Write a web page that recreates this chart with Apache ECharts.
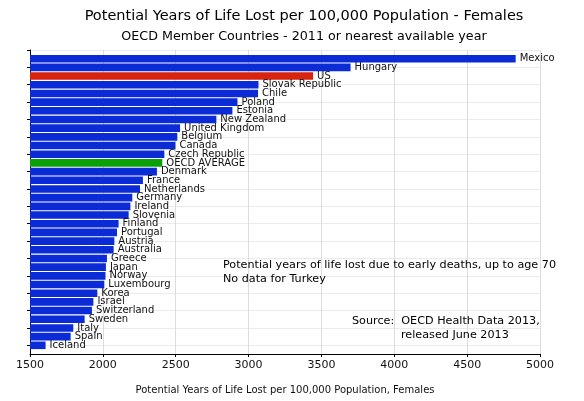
<!DOCTYPE html>
<html>
<head>
<meta charset="utf-8">
<script src="https://cdn.jsdelivr.net/npm/echarts@6/dist/echarts.min.js"></script>
<style>
html,body{margin:0;padding:0;background:#fff;}
#chart{width:584px;height:401px;}
</style>
</head>
<body>
<div id="chart"></div>
<script>
var countries = ['Mexico','Hungary','US','Slovak Republic','Chile','Poland','Estonia','New Zealand','United Kingdom','Belgium','Canada','Czech Republic','OECD AVERAGE','Denmark','France','Netherlands','Germany','Ireland','Slovenia','Finland','Portugal','Austria','Australia','Greece','Japan','Norway','Luxembourg','Korea','Israel','Switzerland','Sweden','Italy','Spain','Iceland'];
var values = [4833,3700,3443,3068,3065,2924,2889,2779,2530,2511,2498,2422,2408,2371,2275,2255,2202,2189,2177,2108,2097,2079,2074,2028,2021,2018,2010,1962,1935,1925,1875,1797,1779,1607];
var xTicks = {min:1500, max:5000, interval:500};
var highlight = {'US':'#d8230f','OECD AVERAGE':'#0aa00a'};
var baseColor = '#0a2bd6';
var titleText = 'Potential Years of Life Lost per 100,000 Population - Females';
var subtitleText = 'OECD Member Countries - 2011 or nearest available year';
var xAxisName = 'Potential Years of Life Lost per 100,000 Population, Females';
var noteLines = ['Potential years of life lost due to early deaths, up to age 70','No data for Turkey'];
var sourceLines = ['Source:  OECD Health Data 2013,','released June 2013'];

var font = 'DejaVu Sans';
var cats = [''].concat(countries).concat(['']);
var seriesData = [null].concat(values.map(function(v,i){
  return {value:v, itemStyle:{color: highlight[countries[i]] || baseColor}};
})).concat([null]);

var chart = echarts.init(document.getElementById('chart'));
chart.setOption({
  animation:false,
  textStyle:{fontFamily:font},
  grid:{left:30, right:44, top:50, bottom:47},
  xAxis:{
    type:'value', min:xTicks.min, max:xTicks.max, interval:xTicks.interval,
    name:xAxisName, nameLocation:'middle', nameGap:31,
    nameTextStyle:{fontFamily:font, fontSize:10, color:'#111'},
    axisLine:{show:true, lineStyle:{color:'#000'}},
    axisTick:{show:true, length:3, lineStyle:{color:'#000'}},
    axisLabel:{fontFamily:font, fontSize:11, color:'#111', margin:6, formatter:function(v){return String(v);}},
    splitLine:{show:true, lineStyle:{color:'#dddddd'}}
  },
  yAxis:{
    type:'category', data:cats, inverse:true, boundaryGap:false,
    axisLine:{show:true, lineStyle:{color:'#000'}},
    axisTick:{show:true, length:3, lineStyle:{color:'#000'}},
    axisLabel:{show:false},
    splitLine:{show:true, lineStyle:{color:'#ebebeb'}}
  },
  series:[{
    type:'bar', data:seriesData, barWidth:7.6,
    label:{show:true, position:'right', distance:4, fontFamily:font, fontSize:10, color:'#111',
      formatter:function(p){return p.name;}}
  }],
  graphic:[
    {type:'text', x:304, y:9, z:100, style:{text:titleText, font:'14.5px "DejaVu Sans"', fill:'#000', textAlign:'center'}},
    {type:'text', x:304, y:30, z:100, style:{text:subtitleText, font:'12.7px "DejaVu Sans"', fill:'#000', textAlign:'center'}},
    {type:'text', x:223, y:258, z:100, style:{text:noteLines.join('\n'), font:'11.2px "DejaVu Sans"', lineHeight:14, fill:'#000'}},
    {type:'text', x:352, y:316, z:100, style:{text:sourceLines[0], font:'11.2px "DejaVu Sans"', fill:'#000'}},
    {type:'text', x:401, y:330, z:100, style:{text:sourceLines[1], font:'11.2px "DejaVu Sans"', fill:'#000'}}
  ]
});
</script>
</body>
</html>
